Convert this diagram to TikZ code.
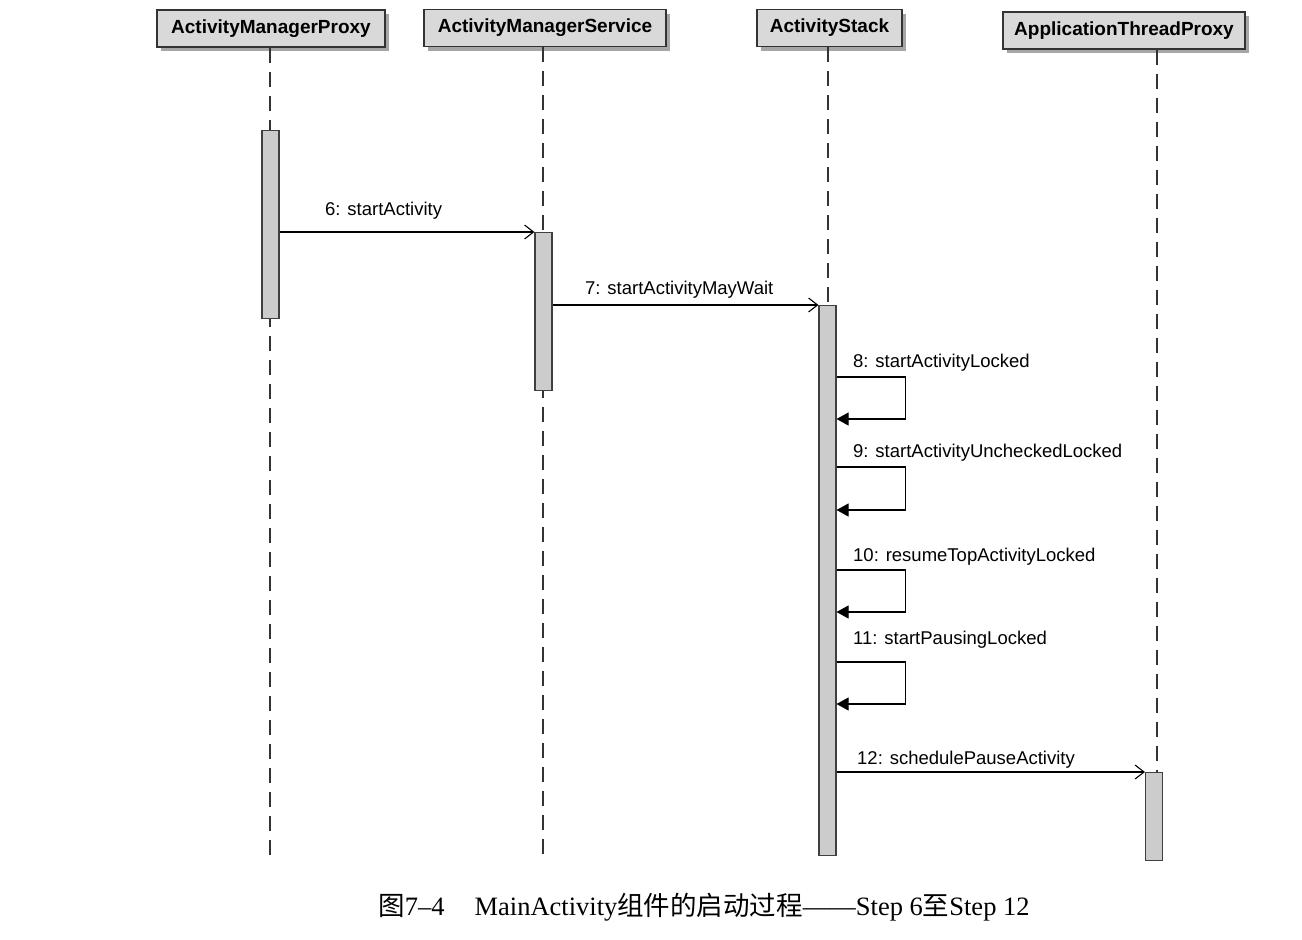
\documentclass[tikz,border=0pt]{standalone}
\usepackage{fontspec}
\setmainfont{Liberation Serif}
\newfontfamily\hfont{Liberation Sans}
\newfontfamily\cjk{Noto Sans CJK SC}
\usetikzlibrary{arrows.meta,shadows}

\tikzset{
  head/.style={draw=black!80, line width=1.1pt, fill=black!15, minimum height=37pt,
    inner sep=0pt, font=\hfont\bfseries\fontsize{19}{19}\selectfont,
    drop shadow={shadow xshift=4pt, shadow yshift=-4pt, fill=black!35, opacity=1}},
  life/.style={line width=1.2pt, black!80, dash pattern=on 15pt off 9pt},
  act/.style={draw=black!75, line width=1.1pt, fill=black!20, minimum width=17pt,
    inner sep=0pt, anchor=north},
  call/.style={line width=1.1pt, -{Straight Barb[length=9pt,width=14pt,line width=1.1pt]}},
  selfcall/.style={line width=1.1pt, -{Triangle[length=12pt,width=13pt]}},
  lbl/.style={anchor=west, inner sep=0pt, font=\hfont\fontsize{18.5}{18.5}\selectfont}
}

\begin{document}
\begin{tikzpicture}[x=1pt,y=-1pt]
\useasboundingbox (0,0) rectangle (1302,940);

% participants
\node[head, minimum width=228pt] (amp) at (271,28.5) {ActivityManagerProxy};
\node[head, minimum width=242pt] (ams) at (545,28) {ActivityManagerService};
\node[head, minimum width=145pt] (as)  at (829.5,28) {ActivityStack};
\node[head, minimum width=242pt] (atp) at (1124,30.5) {ApplicationThreadProxy};

% lifeline ends
\coordinate (ampend) at (270,857);
\coordinate (amsend) at (543,857);
\coordinate (asend)  at (828,857);
\coordinate (atpend) at (1157,857);

\draw[life] (amp.south -| ampend) -- (ampend);
\draw[life] (ams.south -| amsend) -- (amsend);
\draw[life] (as.south -| asend) -- (asend);
\draw[life] (atp.south -| atpend) -- (atpend);

% activations
\node[act, minimum height=188pt] (ampA) at (270.5,130) {};
\node[act, minimum height=158pt] (amsA) at (543.5,232) {};
\node[act, minimum height=550pt] (asA)  at (827.5,305) {};
\node[act, minimum height=88pt]  (atpA) at (1154,772) {};

% calls between lifelines
\draw[call] (ampA.east |- amsA.north) -- (amsA.north west);
\node[lbl] (l6) at (325,211) {6: startActivity};

\draw[call] (amsA.east |- asA.north) -- (asA.north west);
\node[lbl] (l7) at (585,290) {7: startActivityMayWait};

% self calls on ActivityStack
\coordinate (s8a) at (836,377);  \coordinate (s8b) at (836,419);
\coordinate (s9a) at (836,467);  \coordinate (s9b) at (836,510);
\coordinate (s10a) at (836,570); \coordinate (s10b) at (836,612);
\coordinate (s11a) at (836,662); \coordinate (s11b) at (836,704);

\draw[selfcall] (asA.east |- s8a) -- ++(69,0) |- (asA.east |- s8b);
\node[lbl] (l8) at (853,363) {8: startActivityLocked};

\draw[selfcall] (asA.east |- s9a) -- ++(69,0) |- (asA.east |- s9b);
\node[lbl] (l9) at (853,453) {9: startActivityUncheckedLocked};

\draw[selfcall] (asA.east |- s10a) -- ++(69,0) |- (asA.east |- s10b);
\node[lbl] (l10) at (853,557) {10: resumeTopActivityLocked};

\draw[selfcall] (asA.east |- s11a) -- ++(69,0) |- (asA.east |- s11b);
\node[lbl] (l11) at (853,640) {11: startPausingLocked};

\draw[call] (asA.east |- atpA.north) -- (atpA.north west);
\node[lbl] (l12) at (857,760) {12: schedulePauseActivity};

% caption
\node[font=\fontsize{26.5}{26.5}\selectfont, inner sep=0pt] (cap) at (704,907)
  {{\cjk 图}7–4\hspace{30pt}MainActivity{\cjk 组件的启动过程}——Step 6{\cjk 至}Step 12};
\end{tikzpicture}
\end{document}
